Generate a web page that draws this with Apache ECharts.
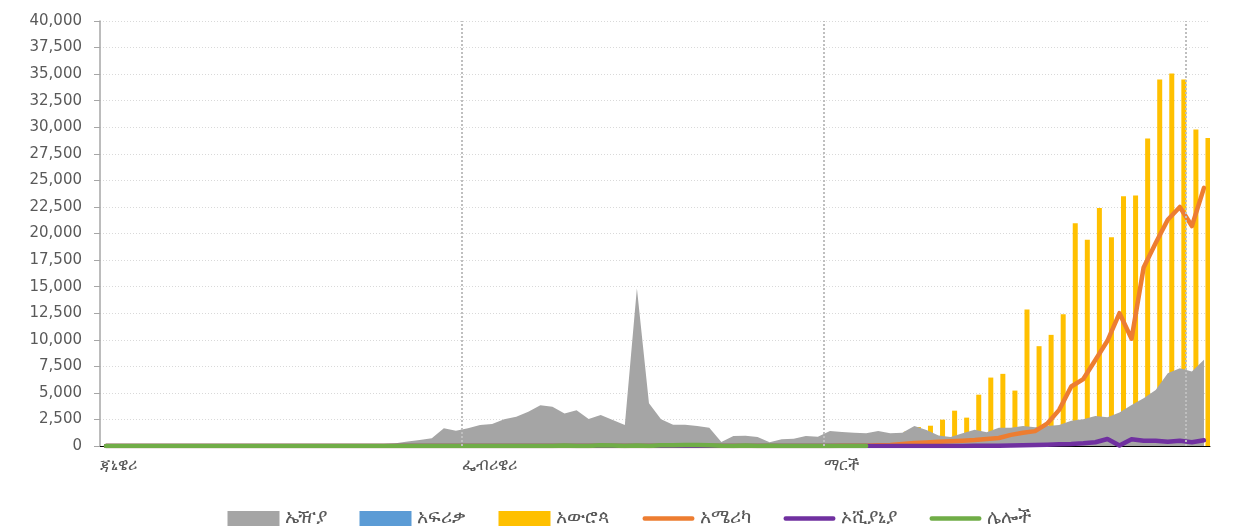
<!DOCTYPE html>
<html>
<head>
<meta charset="utf-8">
<script src="https://cdn.jsdelivr.net/npm/echarts@6/dist/echarts.min.js"></script>
<style>
  html, body { margin: 0; padding: 0; background: #fff; }
  #chart { width: 1258px; height: 529px; }
</style>
</head>
<body>
<div id="chart"></div>
<script>
// daily categories, 31 Dec 2019 .. 31 Mar 2020
const days = []
for (let d = new Date(2019, 11, 31); d <= new Date(2020, 2, 31); d.setDate(d.getDate() + 1)) {
  days.push((d.getMonth() + 1) + '/' + d.getDate())
}
const monthLabels = { 0: 'ጃኒዌሪ', 30: 'ፌብሪዌሪ', 60: 'ማርች' }
const monthStarts = [30, 60, 90]
const continents = ['ኤዥያ', 'አፍሪቃ', 'አውሮጳ', 'አሜሪካ', 'ኦሺያኒያ', 'ሌሎች']

const asia = [
  27, 0, 0, 17, 0, 15, 0, 0, 0, 0,
  0, 0, 0, 1, 0, 0, 0, 4, 17, 60,
  80, 110, 150, 200, 260, 420, 560, 720, 1660, 1440,
  1660, 1975, 2070, 2510, 2760, 3230, 3830, 3700, 3070, 3360,
  2540, 2920, 2450, 1975, 14840, 4015, 2510, 2010, 2010, 1880,
  1725, 376, 940, 970, 847, 348, 630, 690, 940, 875,
  1410, 1320, 1257, 1194, 1410, 1194, 1257, 1885, 1508, 1000,
  850, 1194, 1540, 1300, 1728, 1728, 1885, 1760, 1885, 1979,
  2388, 2514, 2828, 2702, 3142, 3865, 4493, 5279, 6850, 7321,
  7007, 8106
]
const africa = [
  0, 0, 0, 0, 0, 0, 0, 0, 0, 0,
  0, 0, 0, 0, 0, 0, 0, 0, 0, 0,
  0, 0, 0, 0, 0, 0, 0, 0, 0, 0,
  0, 0, 0, 0, 0, 0, 0, 0, 0, 0,
  0, 0, 0, 0, 0, 1, 0, 0, 0, 0,
  0, 0, 0, 0, 0, 0, 1, 0, 1, 1,
  2, 3, 5, 4, 10, 8, 15, 20, 25, 30,
  40, 45, 60, 70, 85, 100, 120, 150, 180, 160,
  220, 250, 230, 300, 310, 340, 320, 380, 420, 360,
  450, 470
]
const europe = [
  0, 0, 0, 0, 0, 0, 0, 0, 0, 0,
  0, 0, 0, 0, 0, 0, 0, 0, 0, 0,
  0, 0, 0, 0, 3, 0, 0, 1, 0, 1,
  0, 5, 1, 2, 0, 1, 4, 1, 3, 2,
  1, 3, 1, 0, 1, 0, 0, 0, 0, 0,
  0, 3, 3, 20, 60, 80, 100, 120, 200, 280,
  300, 350, 630, 30, 784, 847, 1350, 1790, 1910, 2480,
  3325, 2670, 4830, 6440, 6790, 5215, 12850, 9395, 10460, 12410,
  20960, 19420, 22400, 19640, 23500, 23565, 28940, 34500, 35065, 34500,
  29790, 29000
]
const america = [
  0, 0, 0, 0, 0, 0, 0, 0, 0, 0,
  0, 0, 0, 0, 0, 0, 0, 0, 0, 0,
  0, 1, 0, 0, 1, 1, 3, 0, 0, 0,
  1, 1, 2, 1, 0, 0, 0, 0, 0, 0,
  1, 0, 1, 0, 0, 0, 0, 0, 0, 0,
  0, 0, 0, 0, 0, 0, 3, 2, 5, 8,
  10, 12, 20, 30, 60, 100, 180, 280, 330, 400,
  450, 500, 560, 650, 750, 1050, 1250, 1400, 2100, 3400,
  5600, 6300, 8100, 9900, 12500, 10100, 16800, 19100, 21300, 22500,
  20700, 24300
]
const oceania = [
  0, 0, 0, 0, 0, 0, 0, 0, 0, 0,
  0, 0, 0, 0, 0, 0, 0, 0, 0, 0,
  0, 0, 0, 0, 0, 3, 1, 0, 1, 2,
  2, 1, 2, 0, 0, 0, 0, 0, 0, 0,
  0, 0, 0, 0, 0, 0, 0, 0, 0, 0,
  0, 0, 0, 0, 0, 0, 0, 2, 3, 2,
  4, 3, 4, 2, 0, 2, 3, 5, 5, 8,
  10, 10, 15, 20, 30, 50, 70, 90, 120, 160,
  190, 250, 350, 660, 40, 630, 500, 500, 400, 500,
  350, 535
]
const others = [
  0, 0, 0, 0, 0, 0, 0, 0, 0, 0,
  0, 0, 0, 0, 0, 0, 0, 0, 0, 0,
  0, 0, 0, 0, 0, 0, 0, 0, 0, 0,
  0, 0, 0, 0, 0, 0, 10, 10, 41, 3,
  6, 65, 39, 0, 44, 0, 67, 70, 99, 88,
  79, 13, 3, 57, 0, 14, 0, 0, 0, 0,
  0, 0, 0, 0, null, null, null, null, null, null,
  null, null, null, null, null, null, null, null, null, null,
  null, null, null, null, null, null, null, null, null, null,
  null, null
]

const font = '"DejaVu Sans", "Noto Sans", sans-serif'
// thin rounded bar for the line entries of the legend (corner specks keep the 52x15 box)
const lineIcon = 'path://M0,0L0.01,0L0.01,0.01ZM52,15L51.99,15L51.99,14.99ZM2.2,5.3L49.8,5.3A2.2,2.2,0,0,1,49.8,9.7L2.2,9.7A2.2,2.2,0,0,1,2.2,5.3Z'
const chart = echarts.init(document.getElementById('chart'))

function lineSeries (name, data, color) {
  return {
    name: name,
    type: 'line',
    data: data,
    symbol: 'none',
    connectNulls: false,
    itemStyle: { color: color },
    lineStyle: { color: color, width: 4.5, cap: 'round', join: 'round' }
  }
}

const option = {
  animation: false,
  textStyle: { fontFamily: font },
  grid: { left: 100, right: 48, top: 21, bottom: 83 },
  legend: {
    top: 504,
    left: 'center',
    itemWidth: 52,
    itemHeight: 15,
    itemGap: 33,
    textStyle: { fontSize: 18.5, color: '#595959', fontFamily: font },
    data: [
      { name: continents[0], icon: 'rect' },
      { name: continents[1], icon: 'rect' },
      { name: continents[2], icon: 'rect' },
      { name: continents[3], icon: lineIcon },
      { name: continents[4], icon: lineIcon },
      { name: continents[5], icon: lineIcon }
    ]
  },
  xAxis: [
    {
      type: 'category',
      data: days,
      boundaryGap: true,
      axisLine: { lineStyle: { color: '#000', width: 1 } },
      axisTick: {
        interval: function (i) { return i % 30 === 0 },
        length: 6,
        lineStyle: { color: '#000' }
      },
      axisLabel: {
        interval: function (i) { return monthLabels[i] !== undefined },
        formatter: function (v, i) { return monthLabels[i] || '' },
        align: 'left',
        color: '#595959',
        fontSize: 16,
        margin: 12,
        padding: [0, 0, 0, -6]
      },
      splitLine: { show: false }
    },
    {
      // hidden helper axis so the month grid lines sit on day boundaries
      type: 'value',
      min: 0,
      max: days.length,
      show: false
    }
  ],
  yAxis: {
    type: 'value',
    min: 0,
    max: 40000,
    interval: 2500,
    axisLine: { show: true, lineStyle: { color: '#a6a6a6', width: 1.5 } },
    axisTick: { show: true, length: 6, lineStyle: { color: '#a6a6a6' } },
    axisLabel: {
      formatter: function (v) { return v.toLocaleString('en-US') },
      color: '#595959',
      fontSize: 15,
      margin: 18
    },
    splitLine: { lineStyle: { color: '#d9d9d9', type: [1, 2] } }
  },
  series: [
    {
      type: 'line',
      xAxisIndex: 1,
      data: [],
      silent: true,
      markLine: {
        silent: true,
        symbol: 'none',
        label: { show: false },
        lineStyle: { color: '#bfbfbf', width: 2, type: [2, 2] },
        data: monthStarts.map(function (m) { return { xAxis: m } })
      }
    },
    {
      name: continents[0],
      type: 'line',
      data: asia,
      symbol: 'none',
      itemStyle: { color: '#a5a5a5' },
      lineStyle: { width: 0 },
      areaStyle: { color: '#a5a5a5', opacity: 1 }
    },
    {
      name: continents[1],
      type: 'bar',
      data: africa,
      barWidth: 5,
      barGap: '60%',
      itemStyle: { color: '#5b9bd5' }
    },
    {
      name: continents[2],
      type: 'bar',
      data: europe,
      barWidth: 5,
      barGap: '60%',
      itemStyle: { color: '#ffc000' }
    },
    lineSeries(continents[3], america, '#ed7d31'),
    lineSeries(continents[4], oceania, '#7030a0'),
    lineSeries(continents[5], others, '#70ad47')
  ]
}
chart.setOption(option)
</script>
</body>
</html>
